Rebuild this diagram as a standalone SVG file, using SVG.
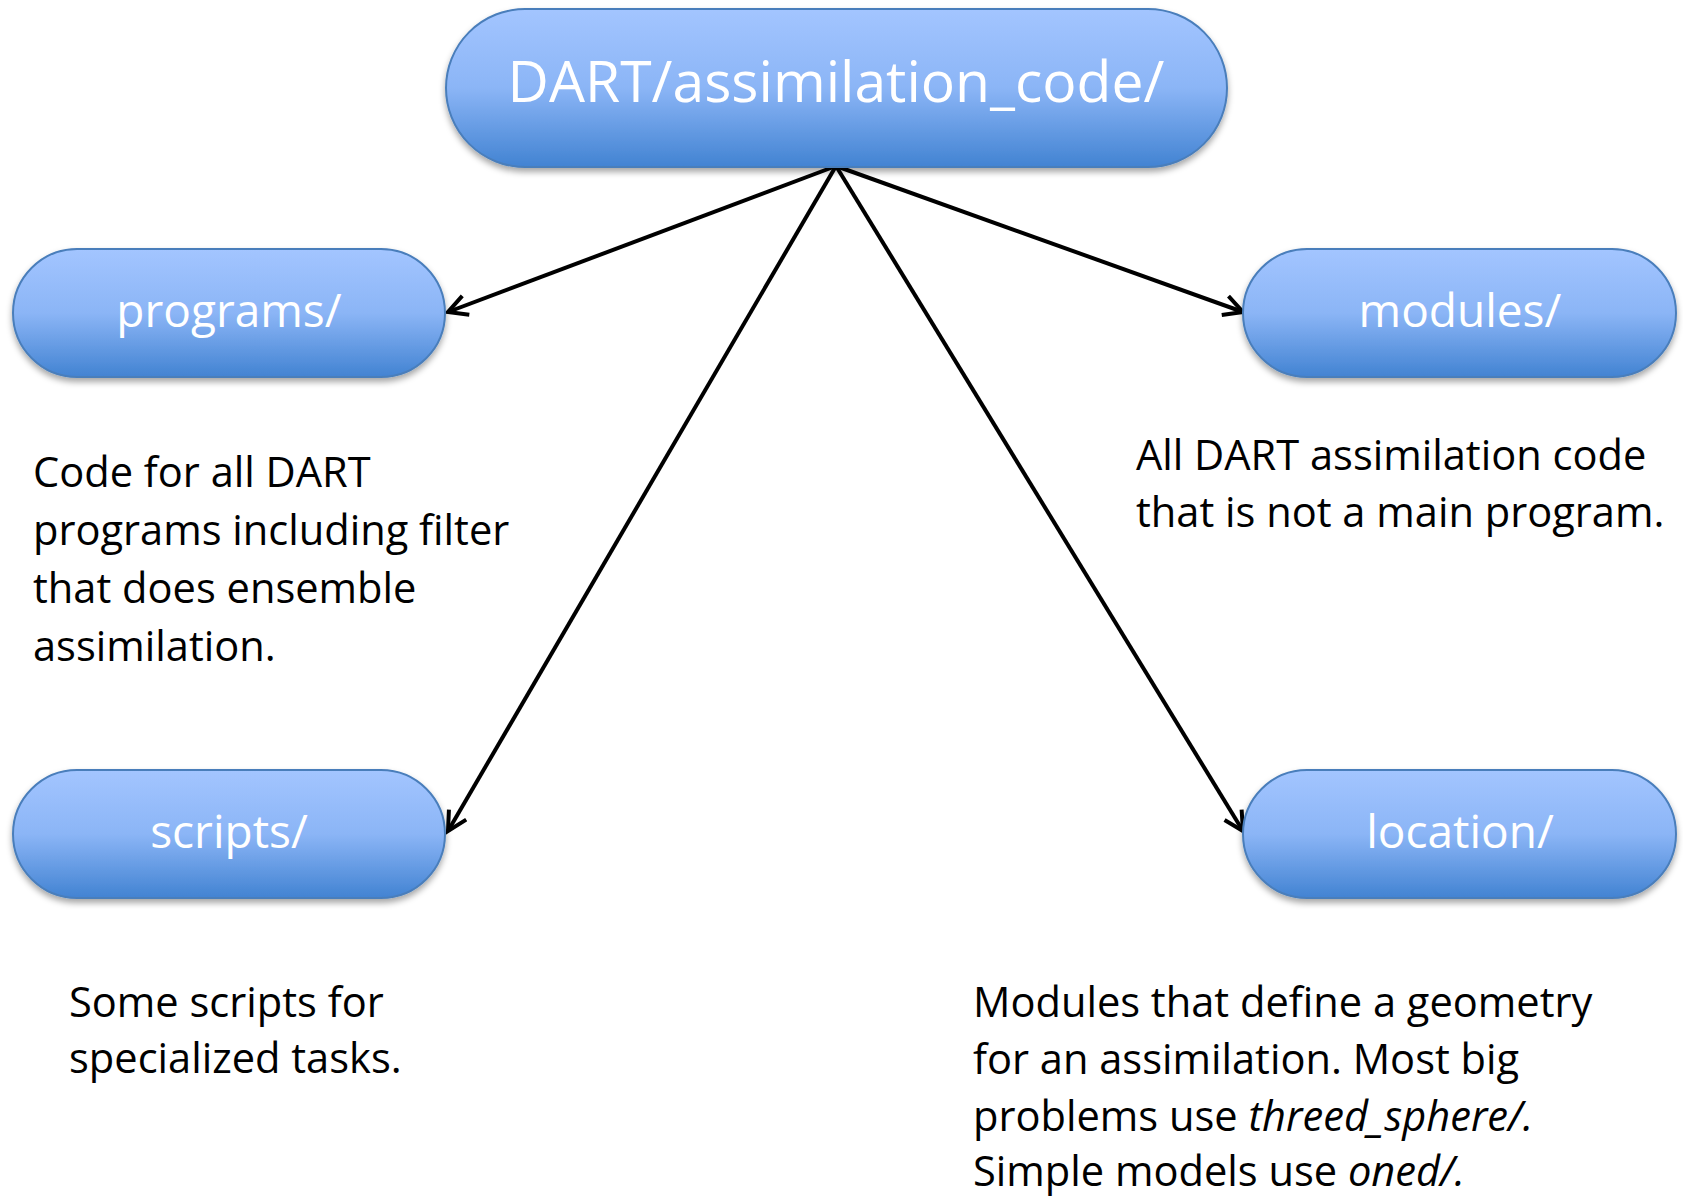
<svg xmlns="http://www.w3.org/2000/svg" width="1683" height="1196" viewBox="0 0 1683 1196">
<style>
.node{fill:url(#g);stroke:#4a7ebb;stroke-width:2;filter:url(#sh)}
.lbl{font-family:"Open Sans","Noto Sans",sans-serif;fill:#ffffff;text-anchor:middle}
.desc{font-family:"Open Sans","Noto Sans",sans-serif;font-size:41.6px;fill:#000000}
.conn{stroke:#000;stroke-width:4;fill:none;marker-end:url(#arr)}
</style>
<defs>
<linearGradient id="g" x1="0" y1="0" x2="0" y2="1">
<stop offset="0" stop-color="#a3c5ff"/>
<stop offset="0.5" stop-color="#8bb5f6"/>
<stop offset="1" stop-color="#4283d2"/>
</linearGradient>
<filter id="sh" x="-10%" y="-20%" width="120%" height="150%">
<feDropShadow dx="0" dy="4" stdDeviation="3" flood-color="#000" flood-opacity="0.35"/>
</filter>
<marker id="arr" markerUnits="userSpaceOnUse" markerWidth="28" markerHeight="28" refX="22" refY="12" orient="auto">
<path d="M3,2 L22,12 L3,22" fill="none" stroke="#000" stroke-width="4" stroke-linejoin="miter"/>
</marker>
</defs>
<g id="connectors">
<line class="conn" x1="836" y1="166" x2="448" y2="312"/>
<line class="conn" x1="836" y1="166" x2="1243" y2="312"/>
<line class="conn" x1="836" y1="166" x2="448" y2="831"/>
<line class="conn" x1="836" y1="166" x2="1243" y2="831"/>
</g>
<g id="root">
<rect class="node" x="446" y="9" width="781" height="158" rx="79" ry="79"/>
<text class="lbl" x="836" y="102" font-size="57">DART/assimilation_code/</text>
</g>
<g id="programs">
<rect class="node" x="13" y="249" width="432" height="128" rx="64" ry="64"/>
<text class="lbl" x="229" y="327" font-size="46">programs/</text>
</g>
<g id="modules">
<rect class="node" x="1243" y="249" width="433" height="128" rx="64" ry="64"/>
<text class="lbl" x="1460" y="327" font-size="46">modules/</text>
</g>
<g id="scripts">
<rect class="node" x="13" y="770" width="432" height="128" rx="64" ry="64"/>
<text class="lbl" x="229" y="848" font-size="46">scripts/</text>
</g>
<g id="location">
<rect class="node" x="1243" y="770" width="433" height="128" rx="64" ry="64"/>
<text class="lbl" x="1460" y="848" font-size="46">location/</text>
</g>
<g id="desc-programs">
<text class="desc" x="33" y="487">Code for all DART</text>
<text class="desc" x="33" y="545">programs including filter</text>
<text class="desc" x="33" y="603">that does ensemble</text>
<text class="desc" x="33" y="661">assimilation.</text>
</g>
<g id="desc-modules">
<text class="desc" x="1136" y="470">All DART assimilation code</text>
<text class="desc" x="1136" y="527">that is not a main program.</text>
</g>
<g id="desc-scripts">
<text class="desc" x="69" y="1017">Some scripts for</text>
<text class="desc" x="69" y="1073">specialized tasks.</text>
</g>
<g id="desc-location">
<text class="desc" x="973" y="1017">Modules that define a geometry</text>
<text class="desc" x="973" y="1074">for an assimilation. Most big</text>
<text class="desc" x="973" y="1131">problems use <tspan font-style="italic">threed_sphere/.</tspan></text>
<text class="desc" x="973" y="1186">Simple models use <tspan font-style="italic">oned/.</tspan></text>
</g>
</svg>
